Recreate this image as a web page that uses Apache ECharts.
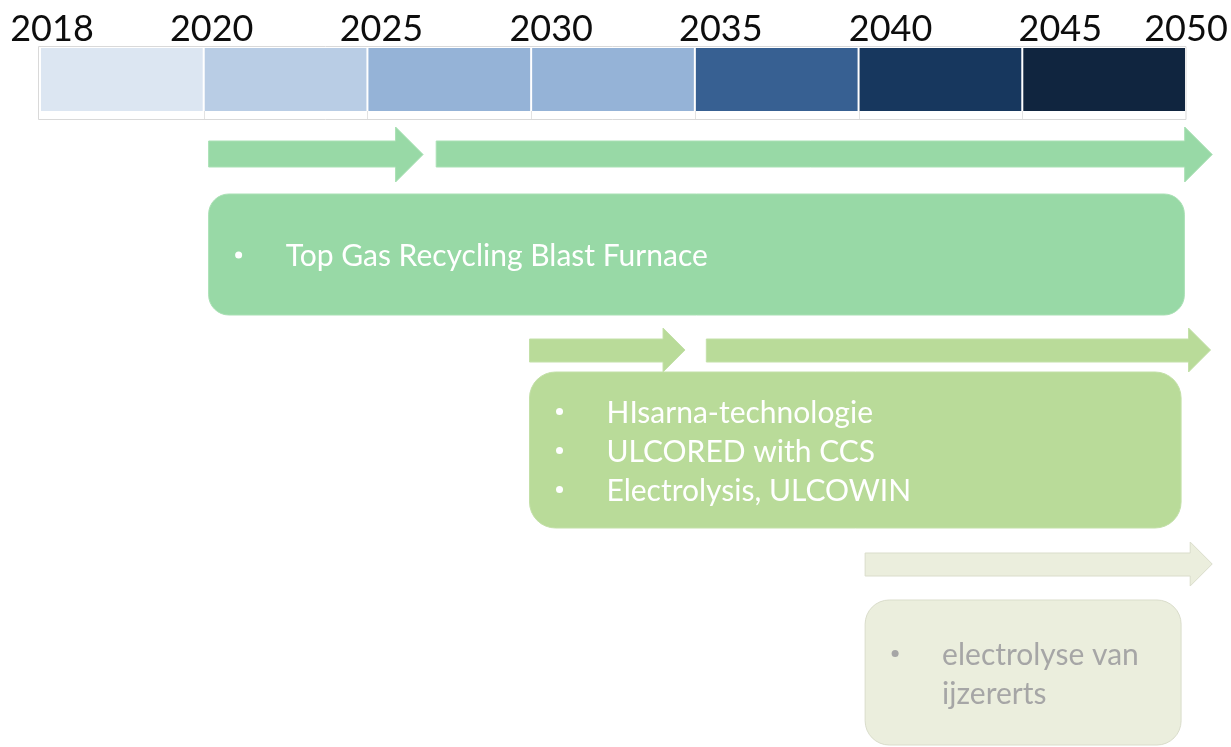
<!DOCTYPE html>
<html>
<head>
<meta charset="utf-8">
<script src="https://cdn.jsdelivr.net/npm/echarts@6/dist/echarts.min.js"></script>
<style>
html,body{margin:0;padding:0;background:#ffffff;}
#chart{width:1231px;height:747px;}
</style>
</head>
<body>
<div id="chart"></div>
<script>
// ---------- DATA ----------
// Timeline boundary labels (each period occupies one equal-width cell)
const yearLabels = ['2018', '2020', '2025', '2030', '2035', '2040', '2045', '2050'];
// Period cells: index of start boundary and end boundary
const periodStart = [0, 1, 2, 3, 4, 5, 6];
const periodEnd   = [1, 2, 3, 4, 5, 6, 7];
// Arrows (in period-boundary units) and the row they belong to
const arrowFrom = [1.03, 2.42, 2.99, 4.07, 5.04];
const arrowTo   = [2.34, 7.16, 3.94, 7.15, 7.16];
const arrowRow  = [0, 0, 1, 1, 2];
// Technology boxes (in period-boundary units)
const boxFrom = [1.03, 2.99, 5.04];
const boxTo   = [6.99, 6.97, 6.97];
const boxItems = [
  ['Top Gas Recycling Blast Furnace'],
  ['HIsarna-technologie', 'ULCORED with CCS', 'Electrolysis, ULCOWIN'],
  ['electrolyse van ijzererts']
];

// ---------- STYLE / LAYOUT ----------
const FONT = 'Lato, "Open Sans", "Noto Sans", sans-serif';
const cellColors = ['#DCE6F2', '#B9CDE5', '#95B3D7', '#95B3D7', '#376092', '#17375E', '#10253F'];
const rowStyle = [
  { fill: '#98D9A6', stroke: '#A9E0B4', text: '#FFFFFF', bullet: '#FFFFFF' },
  { fill: '#B9DB99', stroke: '#C3E0A8', text: '#FFFFFF', bullet: '#FFFFFF' },
  { fill: '#EBEEDD', stroke: '#DADDCB', text: '#A6A6A6', bullet: '#A6A6A6' }
];
const rowLayout = [
  { shaftTop: 141, shaftBot: 167, headTop: 127, headBot: 182, boxTop: 194, boxBot: 315 },
  { shaftTop: 339, shaftBot: 362, headTop: 328, headBot: 372, boxTop: 372, boxBot: 528 },
  { shaftTop: 553, shaftBot: 576, headTop: 542, headBot: 586, boxTop: 600, boxBot: 745 }
];
const strip = { outerTop: 46, outerBot: 119, cellTop: 48, cellBot: 111, labelY: 29 };
const textSize = 30, lineH = 39, bulletDx = 30, textDx = 77, rightPad = 12;

const measureCtx = document.createElement('canvas').getContext('2d');
function wrapText(str, maxW) {
  measureCtx.font = textSize + 'px ' + FONT;
  const words = str.split(' ');
  const lines = [];
  let cur = '';
  words.forEach(w => {
    const t = cur ? cur + ' ' + w : w;
    if (cur && measureCtx.measureText(t).width > maxW) { lines.push(cur); cur = w; }
    else cur = t;
  });
  if (cur) lines.push(cur);
  return lines;
}

function labelNudge(i, n) {
  if (i === n - 1) return 0;
  if (i === 0) return 12;
  return 2 + 6 * i;
}

const chart = echarts.init(document.getElementById('chart'), null, { renderer: 'canvas' });

const option = {
  animation: false,
  backgroundColor: '#ffffff',
  grid: { left: 40, right: 45, top: 0, bottom: 0 },
  xAxis: { type: 'value', min: 0, max: yearLabels.length - 1, interval: 1, show: false },
  yAxis: { type: 'value', min: 0, max: 1, show: false },
  series: [
    {
      // frame of the timeline strip
      type: 'custom', name: 'frame', silent: true,
      data: [[0, yearLabels.length - 1]],
      encode: { x: [0, 1] },
      renderItem: function (params, api) {
        const x0 = api.coord([api.value(0), 0])[0];
        const x1 = api.coord([api.value(1), 0])[0];
        const children = [{
          type: 'rect',
          shape: { x: x0 - 1.5, y: strip.outerTop + 0.5, width: x1 - x0 + 1.5, height: strip.outerBot - strip.outerTop },
          style: { fill: '#FFFFFF', stroke: '#D9D9D9', lineWidth: 1 }
        }];
        for (let k = 1; k < yearLabels.length - 1; k++) {
          const xb = Math.round(api.coord([k, 0])[0]) + 0.5;
          children.push({
            type: 'line',
            shape: { x1: xb, y1: strip.cellBot, x2: xb, y2: strip.outerBot },
            style: { stroke: '#E3E3E3', lineWidth: 1 }
          });
        }
        return { type: 'group', children: children };
      }
    },
    {
      type: 'custom', name: 'periods', silent: true,
      data: periodStart.map((s, i) => [s, periodEnd[i]]),
      encode: { x: [0, 1] },
      renderItem: function (params, api) {
        const x0 = api.coord([api.value(0), 0])[0];
        const x1 = api.coord([api.value(1), 0])[0];
        return {
          type: 'rect',
          shape: { x: x0 + 1, y: strip.cellTop, width: x1 - x0 - 2, height: strip.cellBot - strip.cellTop },
          style: { fill: cellColors[params.dataIndex] }
        };
      }
    },
    {
      type: 'custom', name: 'years', silent: true,
      data: yearLabels.map((y, i) => [i]),
      encode: { x: 0 },
      renderItem: function (params, api) {
        const i = params.dataIndex;
        const x = api.coord([api.value(0), 0])[0] + labelNudge(i, yearLabels.length);
        return {
          type: 'text',
          style: {
            x: x, y: strip.labelY, text: yearLabels[i],
            fill: '#0D0D0D', font: '36px ' + FONT,
            align: 'center', verticalAlign: 'middle'
          }
        };
      }
    },
    {
      type: 'custom', name: 'arrows', silent: true,
      data: arrowFrom.map((f, i) => [f, arrowTo[i], arrowRow[i]]),
      encode: { x: [0, 1] },
      renderItem: function (params, api) {
        const x0 = api.coord([api.value(0), 0])[0];
        const xt = api.coord([api.value(1), 0])[0];
        const r = api.value(2);
        const L = rowLayout[r];
        const yc = (L.headTop + L.headBot) / 2;
        const hl = (L.headBot - L.headTop) / 2;
        const xb = xt - hl;
        return {
          type: 'polygon',
          shape: { points: [[x0, L.shaftTop], [xb, L.shaftTop], [xb, L.headTop], [xt, yc], [xb, L.headBot], [xb, L.shaftBot], [x0, L.shaftBot]] },
          style: { fill: rowStyle[r].fill, stroke: rowStyle[r].stroke, lineWidth: 1 }
        };
      }
    },
    {
      type: 'custom', name: 'boxes', silent: true,
      data: boxFrom.map((f, i) => [f, boxTo[i]]),
      encode: { x: [0, 1] },
      renderItem: function (params, api) {
        const i = params.dataIndex;
        const x0 = api.coord([api.value(0), 0])[0];
        const x1 = api.coord([api.value(1), 0])[0];
        const L = rowLayout[i];
        const S = rowStyle[i];
        const h = L.boxBot - L.boxTop;
        const children = [{
          type: 'rect',
          shape: { x: x0, y: L.boxTop, width: x1 - x0, height: h, r: h / 6 },
          style: { fill: S.fill, stroke: S.stroke, lineWidth: 1 }
        }];
        const maxW = x1 - x0 - textDx - rightPad;
        const items = boxItems[i].map(t => wrapText(t, maxW));
        const total = items.reduce((a, l) => a + l.length, 0);
        const cy = (L.boxTop + L.boxBot) / 2 + 2;
        let k = 0;
        items.forEach(lines => {
          lines.forEach((ln, j) => {
            const y = cy + (k - (total - 1) / 2) * lineH;
            if (j === 0) {
              children.push({
                type: 'circle',
                shape: { cx: x0 + bulletDx, cy: y - 1.5, r: 3.5 },
                style: { fill: S.bullet }
              });
            }
            children.push({
              type: 'text',
              style: {
                x: x0 + textDx, y: y, text: ln,
                fill: S.text, font: textSize + 'px ' + FONT,
                align: 'left', verticalAlign: 'middle'
              }
            });
            k++;
          });
        });
        return { type: 'group', children: children };
      }
    }
  ]
};
chart.setOption(option);
</script>
</body>
</html>
